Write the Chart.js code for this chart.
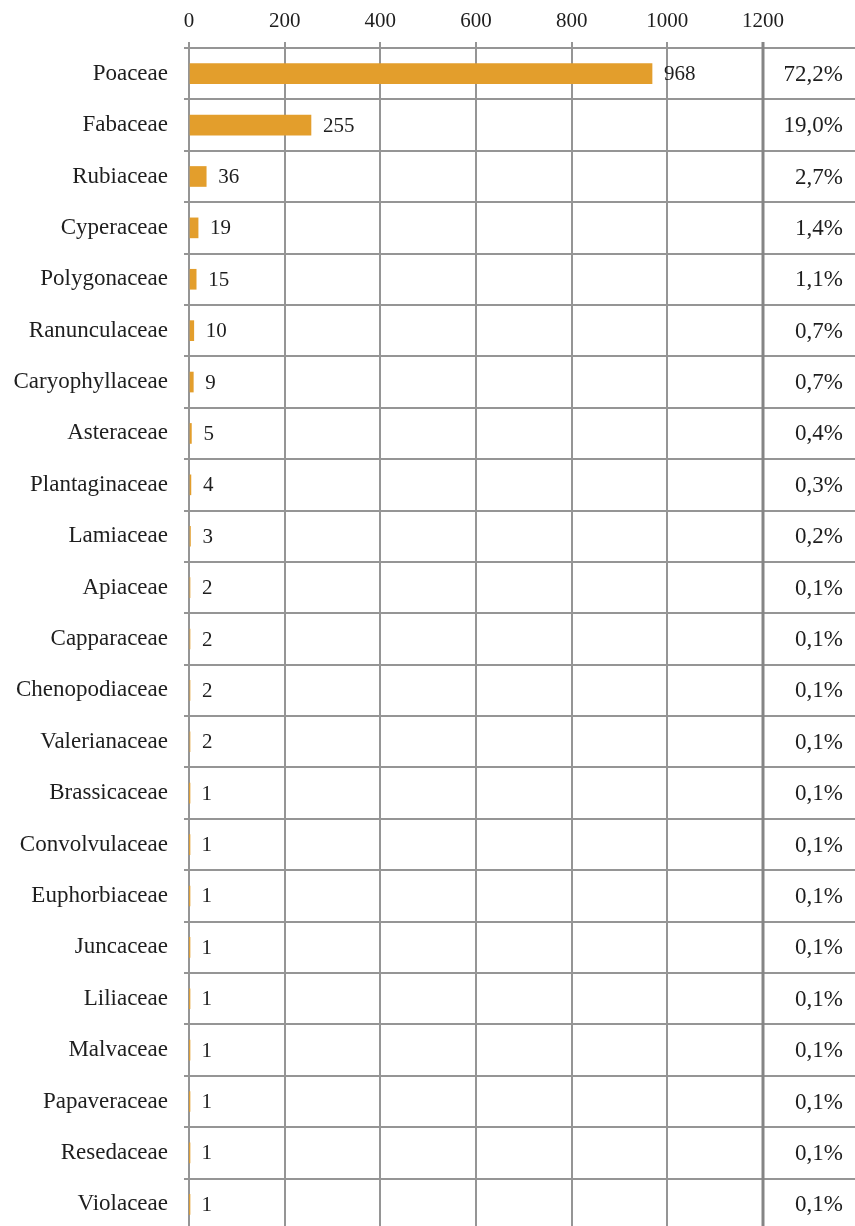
<!DOCTYPE html>
<html>
<head>
<meta charset="utf-8">
<script src="https://cdn.jsdelivr.net/npm/chart.js@4/dist/chart.umd.min.js"></script>
<style>
  html, body { margin: 0; padding: 0; background: #fff; overflow: hidden; }
  #wrap { width: 855px; height: 1230px; }
</style>
</head>
<body>
<div id="wrap"><canvas id="chart" width="855" height="1230"></canvas></div>
<script>
// plant families and number of records
const families = ['Poaceae', 'Fabaceae', 'Rubiaceae', 'Cyperaceae', 'Polygonaceae', 'Ranunculaceae',
  'Caryophyllaceae', 'Asteraceae', 'Plantaginaceae', 'Lamiaceae', 'Apiaceae', 'Capparaceae',
  'Chenopodiaceae', 'Valerianaceae', 'Brassicaceae', 'Convolvulaceae', 'Euphorbiaceae',
  'Juncaceae', 'Liliaceae', 'Malvaceae', 'Papaveraceae', 'Resedaceae', 'Violaceae'];
const counts = [968, 255, 36, 19, 15, 10, 9, 5, 4, 3, 2, 2, 2, 2, 1, 1, 1, 1, 1, 1, 1, 1, 1];
const percents = ['72,2%', '19,0%', '2,7%', '1,4%', '1,1%', '0,7%', '0,7%', '0,4%', '0,3%', '0,2%',
  '0,1%', '0,1%', '0,1%', '0,1%', '0,1%', '0,1%', '0,1%', '0,1%', '0,1%', '0,1%', '0,1%', '0,1%', '0,1%'];
const xTicks = [0, 200, 400, 600, 800, 1000, 1200];

const FONT = 'Liberation Serif';
const textColor = '#1e1e1e';
const gridColor = '#959595';

// value labels next to bars + percent column on the right
const extras = {
  id: 'extras',
  afterDraw(chart) {
    const ctx = chart.ctx;
    const area = chart.chartArea;
    const y = chart.scales.y;
    const bars = chart.getDatasetMeta(0).data;
    ctx.save();
    // extend row lines into the percent column
    ctx.strokeStyle = gridColor;
    ctx.lineWidth = 2;
    for (let i = 0; i <= families.length; i++) {
      const py = Math.round(y.getPixelForValue(i - 0.5));
      ctx.beginPath();
      ctx.moveTo(area.right, py);
      ctx.lineTo(chart.width, py);
      ctx.stroke();
    }
    // heavy separator
    ctx.strokeStyle = '#858585';
    ctx.lineWidth = 3;
    ctx.beginPath();
    ctx.moveTo(area.right, area.top - 6);
    ctx.lineTo(area.right, area.bottom);
    ctx.stroke();

    ctx.fillStyle = textColor;
    ctx.textBaseline = 'middle';
    ctx.textAlign = 'left';
    ctx.font = '21px "' + FONT + '"';
    bars.forEach((b, i) => {
      ctx.fillText(String(counts[i]), b.x + 12, b.y + 1);
    });
    ctx.textAlign = 'right';
    ctx.font = '23px "' + FONT + '"';
    families.forEach((f, i) => {
      ctx.fillText(percents[i], 843, y.getPixelForValue(i) + 1);
    });
    ctx.restore();
  }
};

new Chart(document.getElementById('chart'), {
  type: 'bar',
  data: {
    labels: families,
    datasets: [{
      data: counts,
      backgroundColor: '#E39E2C',
      borderWidth: 0,
      barThickness: 20
    }]
  },
  options: {
    indexAxis: 'y',
    responsive: false,
    animation: false,
    devicePixelRatio: 1,
    layout: { padding: { top: 0, right: 92, bottom: 0, left: 0 } },
    plugins: { legend: { display: false }, tooltip: { enabled: false } },
    scales: {
      x: {
        position: 'top',
        min: 0,
        max: 1200,
        afterBuildTicks(scale) { scale.ticks = xTicks.map(v => ({ value: v })); },
        afterFit(scale) { scale.height = 48; },
        grid: { color: gridColor, lineWidth: 2, tickLength: 6 },
        border: { color: gridColor, width: 2 },
        ticks: {
          color: textColor, font: { family: FONT, size: 21 }, padding: 8, maxRotation: 0,
          callback: v => String(v)
        }
      },
      y: {
        afterFit(scale) {
          scale.width = 189;
          scale.paddingTop = 0;
          scale.paddingBottom = 0;
        },
        grid: { color: gridColor, lineWidth: 2, tickLength: 5, offset: true },
        border: { color: gridColor, width: 2 },
        ticks: { color: textColor, font: { family: FONT, size: 23 }, padding: 16, autoSkip: false }
      }
    }
  },
  plugins: [extras]
});
</script>
</body>
</html>
